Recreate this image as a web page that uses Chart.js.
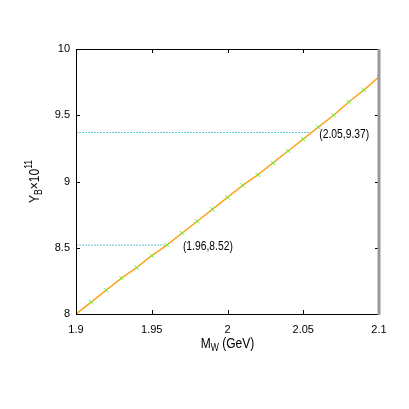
<!DOCTYPE html>
<html><head><meta charset="utf-8">
<script src="https://cdn.jsdelivr.net/npm/chart.js@4"></script>
<style>html,body{margin:0;padding:0;background:#fff;}#wrap{width:409px;height:409px;}</style>
</head><body><div id="wrap"><canvas id="c" width="409" height="409"></canvas></div>
<script>
const massW = [1.90,1.91,1.92,1.93,1.94,1.95,1.96,1.97,1.98,1.99,2.00,2.01,2.02,2.03,2.04,2.05,2.06,2.07,2.08,2.09,2.10];
const yieldB = [8.00,8.09,8.18,8.27,8.35,8.44,8.52,8.61,8.70,8.79,8.88,8.97,9.05,9.14,9.23,9.32,9.41,9.50,9.60,9.69,9.79];
const refX = [1.96, 2.055];
const refY = [8.52, 9.37];
const refLabels = ['(1.96,8.52)', '(2.05,9.37)'];
const refLabelX = [1.96, 2.05];
const xTicks = [1.9, 1.95, 2.0, 2.05, 2.1];
const yTicks = [8, 8.5, 9, 9.5, 10];

const FONT = '"Liberation Sans", Arial, sans-serif';
const mainData = massW.map((x, i) => ({x, y: yieldB[i]}));
const refSets = refX.map((x, i) => ({
  data: [{x: xTicks[0], y: refY[i]}, {x, y: refY[i]}],
  borderColor: 'rgba(40,180,190,0.75)', borderWidth: 1, borderDash: [2, 1],
  pointRadius: 0, fill: false, order: 2
}));

function narrowText(ctx, txt, x, y, sx) {
  ctx.save(); ctx.translate(x, y); ctx.scale(sx, 1); ctx.fillText(txt, 0, 0); ctx.restore();
}

const deco = {
  id: 'deco',
  afterDraw(chart) {
    const ctx = chart.ctx, a = chart.chartArea, xs = chart.scales.x, ys = chart.scales.y;
    ctx.save();
    ctx.strokeStyle = '#000'; ctx.lineWidth = 1;
    const L = 4;
    xTicks.forEach(v => {
      const p = Math.round(xs.getPixelForValue(v)) + 0.5;
      ctx.beginPath(); ctx.moveTo(p, a.bottom); ctx.lineTo(p, a.bottom - L);
      ctx.moveTo(p, a.top); ctx.lineTo(p, a.top + L); ctx.stroke();
    });
    yTicks.forEach(v => {
      const p = Math.round(ys.getPixelForValue(v)) + 0.5;
      ctx.beginPath(); ctx.moveTo(a.left, p); ctx.lineTo(a.left + L, p);
      ctx.moveTo(a.right, p); ctx.lineTo(a.right - L, p); ctx.stroke();
    });
    ctx.beginPath();
    ctx.moveTo(a.left + 0.5, a.bottom); ctx.lineTo(a.left + 0.5, a.top + 0.5);
    ctx.lineTo(a.right, a.top + 0.5);
    ctx.moveTo(a.left, a.bottom + 0.5); ctx.lineTo(a.right, a.bottom + 0.5);
    ctx.stroke();
    ctx.strokeStyle = '#999'; ctx.lineWidth = 3;
    ctx.beginPath(); ctx.moveTo(a.right, a.top); ctx.lineTo(a.right, a.bottom + 1); ctx.stroke();
    // reference labels
    const S = 0.86;
    ctx.fillStyle = '#000'; ctx.font = '12px ' + FONT; ctx.textBaseline = 'middle'; ctx.textAlign = 'left';
    refLabels.forEach((t, i) => {
      narrowText(ctx, t, xs.getPixelForValue(refLabelX[i]) + 16, ys.getPixelForValue(refY[i]) + 2, S);
    });
    // x title: M_W (GeV)
    ctx.textBaseline = 'alphabetic';
    const xt = 227.5, yb = 348;
    ctx.font = '14px ' + FONT; const wM = ctx.measureText('M').width * S;
    ctx.font = '10px ' + FONT; const wW = ctx.measureText('W').width * S;
    ctx.font = '14px ' + FONT; const wG = ctx.measureText(' (GeV)').width * S;
    let x0 = xt - (wM + wW + wG) / 2;
    narrowText(ctx, 'M', x0, yb, S);
    ctx.font = '10px ' + FONT; narrowText(ctx, 'W', x0 + wM, yb + 3, S);
    ctx.font = '14px ' + FONT; narrowText(ctx, ' (GeV)', x0 + wM + wW, yb, S);
    // y title: Y_B x 10^11
    ctx.translate(39, (a.top + a.bottom) / 2); ctx.rotate(-Math.PI / 2);
    const parts = [['Y', 14, 0], ['B', 10, 3], ['\u00d710', 14, 0], ['11', 10, -7]];
    let tot = 0;
    parts.forEach(p => { ctx.font = p[1] + 'px ' + FONT; tot += ctx.measureText(p[0]).width * S; });
    let cx = -tot / 2;
    parts.forEach(p => { ctx.font = p[1] + 'px ' + FONT; narrowText(ctx, p[0], cx, p[2], S); cx += ctx.measureText(p[0]).width * S; });
    ctx.restore();
  }
};

new Chart(document.getElementById('c'), {
  type: 'line',
  data: {
    datasets: [
      {
        data: mainData, borderColor: '#ffa31a', borderWidth: 1.5,
        pointStyle: 'crossRot', pointRadius: 3, pointBorderColor: '#66ee33', pointBorderWidth: 1,
        pointBackgroundColor: '#66ee33', fill: false, tension: 0, order: 1
      },
      ...refSets
    ]
  },
  options: {
    responsive: false, animation: false,
    layout: { padding: { left: 0, right: 30, top: 49, bottom: 0 } },
    plugins: { legend: { display: false }, tooltip: { enabled: false } },
    scales: {
      x: {
        type: 'linear', min: 1.9, max: 2.1,
        afterBuildTicks: s => { s.ticks = xTicks.map(v => ({value: v})); },
        afterFit: s => { s.height = 95; },
        border: { display: false },
        grid: { display: false, drawTicks: false },
        ticks: { padding: 9, color: '#000', font: { family: FONT, size: 11 }, maxRotation: 0,
          callback: v => String(Number(v.toFixed(2))) }
      },
      y: {
        type: 'linear', min: 8, max: 10,
        afterBuildTicks: s => { s.ticks = yTicks.map(v => ({value: v})); },
        afterFit: s => { s.width = 76; },
        border: { display: false },
        grid: { display: false, drawTicks: false },
        ticks: { padding: 6, color: '#000', font: { family: FONT, size: 11 },
          callback: v => String(Number(v.toFixed(2))) }
      }
    }
  },
  plugins: [deco]
});
</script></body></html>
